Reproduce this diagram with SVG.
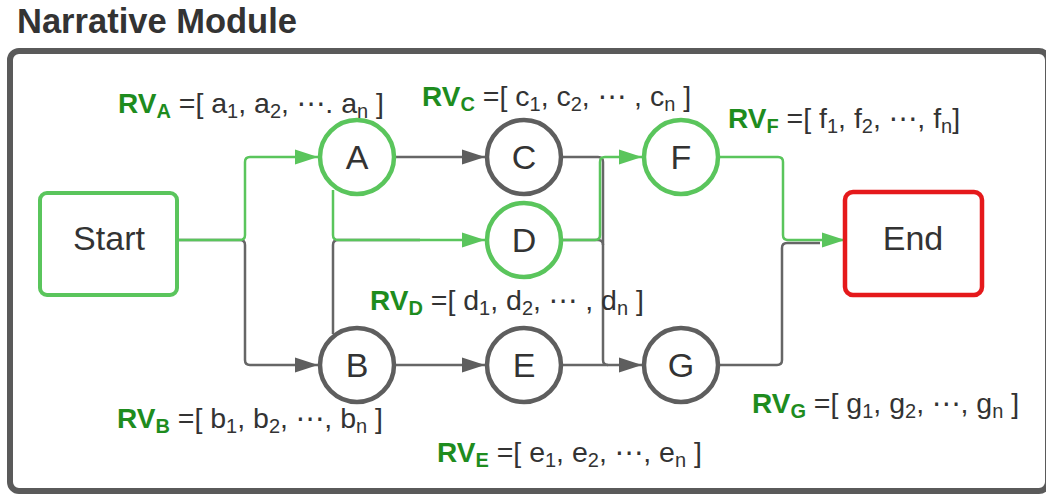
<svg xmlns="http://www.w3.org/2000/svg" width="1046" height="496" viewBox="0 0 1046 496">
<style>
text{font-family:"Liberation Sans","DejaVu Sans",Arial,sans-serif}
.title{font-size:34.5px;font-weight:bold;fill:#333}
.frame{fill:#fff;stroke:#5a5a5a;stroke-width:6}
.box-g{fill:#fff;stroke:#5ac55c;stroke-width:4}
.box-r{fill:#fff;stroke:#e5191b;stroke-width:4.5}
.cg{fill:#fff;stroke:#5ac55c;stroke-width:4.5}
.cd{fill:#fff;stroke:#5e5e5e;stroke-width:4.5}
.nt{font-size:34px;fill:#333;text-anchor:middle}
.lg{fill:none;stroke:#5ac55c;stroke-width:2.5}
.ld{fill:none;stroke:#666;stroke-width:2.5}
.lbl{font-size:28.5px;fill:#333}
.rv{font-weight:bold;fill:#1e8c1e;font-size:28px}
.rvs{font-weight:bold;fill:#1e8c1e;font-size:20px}
.sb{font-size:20px}
</style>
<defs>
<marker id="ag" markerUnits="userSpaceOnUse" markerWidth="24" markerHeight="16" refX="23" refY="8" orient="auto"><path d="M0,0.5 L23,8 L0,15.5 z" fill="#5ac55c"/></marker>
<marker id="ad" markerUnits="userSpaceOnUse" markerWidth="24" markerHeight="16" refX="23" refY="8" orient="auto"><path d="M0,0.5 L23,8 L0,15.5 z" fill="#5e5e5e"/></marker>
</defs>
<text class="title" x="17" y="33">Narrative Module</text>
<rect class="frame" x="10" y="51" width="1038" height="440" rx="9"/>
<g id="connectors">
<path class="ld" d="M177,240 H240 Q245,240 245,245 V360 Q245,365 250,365 H318" marker-end="url(#ad)"/>
<path class="lg" d="M177,240 H240 Q245,240 245,235 V162 Q245,157 250,157 H318" marker-end="url(#ag)"/>
<path class="ld" d="M395,157 H485" marker-end="url(#ad)"/>
<path class="ld" d="M333,334 V245 Q333,240 338,240 H420"/>
<path class="lg" d="M333,190 V235 Q333,240 338,240 H485" marker-end="url(#ag)"/>
<path class="ld" d="M395,365 H485" marker-end="url(#ad)"/>
<path class="ld" d="M563,157 H598 Q603,157 603,162 V360 Q603,365 608,365"/>
<path class="ld" d="M563,240 H598 Q603,240 603,245"/>
<path class="ld" d="M563,365 H642" marker-end="url(#ad)"/>
<path class="lg" d="M563,240 H595 Q600,240 600,235 V162 Q600,157 605,157 H642" marker-end="url(#ag)"/>
<path class="ld" d="M720,365 H777 Q782,365 782,360 V248 Q782,243 787,243 H820"/>
<path class="lg" d="M720,157 H778 Q783,157 783,162 V235 Q783,240 788,240 H845" marker-end="url(#ag)"/>
</g>
<g id="start"><rect class="box-g" x="40" y="193" width="137" height="102" rx="7"/><text class="nt" x="109" y="250">Start</text></g>
<g id="end"><rect class="box-r" x="845" y="192" width="137" height="103" rx="8"/><text class="nt" x="913" y="250">End</text></g>
<g id="nodeA"><circle class="cg" cx="357" cy="157" r="37"/><text class="nt" x="357" y="169">A</text></g>
<g id="nodeC"><circle class="cd" cx="524" cy="157" r="37"/><text class="nt" x="524" y="169">C</text></g>
<g id="nodeF"><circle class="cg" cx="681" cy="157" r="37"/><text class="nt" x="681" y="169">F</text></g>
<g id="nodeD"><circle class="cg" cx="524" cy="240" r="37"/><text class="nt" x="524" y="252">D</text></g>
<g id="nodeB"><circle class="cd" cx="357" cy="365" r="37"/><text class="nt" x="357" y="377">B</text></g>
<g id="nodeE"><circle class="cd" cx="524" cy="365" r="37"/><text class="nt" x="524" y="377">E</text></g>
<g id="nodeG"><circle class="cd" cx="681" cy="365" r="37"/><text class="nt" x="681" y="377">G</text></g>
<g id="labels">
<text class="lbl" x="118" y="113"><tspan class="rv">RV</tspan><tspan class="rvs" dy="5">A</tspan><tspan dy="-5"> =[ a</tspan><tspan class="sb" dy="5">1</tspan><tspan dy="-5">, a</tspan><tspan class="sb" dy="5">2</tspan><tspan dy="-5">, ⋯.  a</tspan><tspan class="sb" dy="5">n</tspan><tspan dy="-5"> ]</tspan></text>
<text class="lbl" x="422" y="106"><tspan class="rv">RV</tspan><tspan class="rvs" dy="5">C</tspan><tspan dy="-5"> =[ c</tspan><tspan class="sb" dy="5">1</tspan><tspan dy="-5">, c</tspan><tspan class="sb" dy="5">2</tspan><tspan dy="-5">, ⋯ , c</tspan><tspan class="sb" dy="5">n</tspan><tspan dy="-5"> ]</tspan></text>
<text class="lbl" x="728" y="128"><tspan class="rv">RV</tspan><tspan class="rvs" dy="5">F</tspan><tspan dy="-5"> =[ f</tspan><tspan class="sb" dy="5">1</tspan><tspan dy="-5">, f</tspan><tspan class="sb" dy="5">2</tspan><tspan dy="-5">, ⋯, f</tspan><tspan class="sb" dy="5">n</tspan><tspan dy="-5">]</tspan></text>
<text class="lbl" x="370" y="310"><tspan class="rv">RV</tspan><tspan class="rvs" dy="5">D</tspan><tspan dy="-5"> =[ d</tspan><tspan class="sb" dy="5">1</tspan><tspan dy="-5">, d</tspan><tspan class="sb" dy="5">2</tspan><tspan dy="-5">, ⋯ , d</tspan><tspan class="sb" dy="5">n</tspan><tspan dy="-5"> ]</tspan></text>
<text class="lbl" x="117" y="428"><tspan class="rv">RV</tspan><tspan class="rvs" dy="5">B</tspan><tspan dy="-5"> =[ b</tspan><tspan class="sb" dy="5">1</tspan><tspan dy="-5">, b</tspan><tspan class="sb" dy="5">2</tspan><tspan dy="-5">, ⋯, b</tspan><tspan class="sb" dy="5">n</tspan><tspan dy="-5"> ]</tspan></text>
<text class="lbl" x="437" y="462"><tspan class="rv">RV</tspan><tspan class="rvs" dy="5">E</tspan><tspan dy="-5"> =[ e</tspan><tspan class="sb" dy="5">1</tspan><tspan dy="-5">, e</tspan><tspan class="sb" dy="5">2</tspan><tspan dy="-5">, ⋯, e</tspan><tspan class="sb" dy="5">n</tspan><tspan dy="-5"> ]</tspan></text>
<text class="lbl" x="752" y="413"><tspan class="rv">RV</tspan><tspan class="rvs" dy="5">G</tspan><tspan dy="-5"> =[ g</tspan><tspan class="sb" dy="5">1</tspan><tspan dy="-5">, g</tspan><tspan class="sb" dy="5">2</tspan><tspan dy="-5">, ⋯, g</tspan><tspan class="sb" dy="5">n</tspan><tspan dy="-5"> ]</tspan></text>
</g>
</svg>
